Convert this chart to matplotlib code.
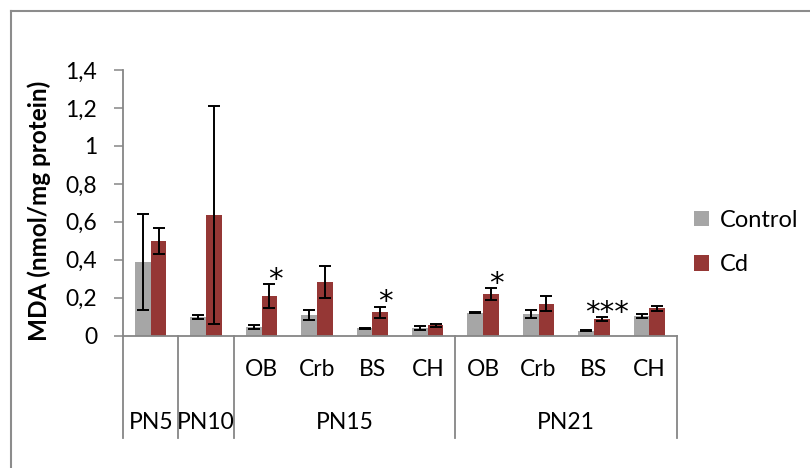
import matplotlib
matplotlib.use("Agg")
import matplotlib.pyplot as plt
import numpy as np
from matplotlib.lines import Line2D
from matplotlib.patches import Patch
import matplotlib.transforms as mtransforms

plt.rcParams['font.family'] = ['Lato', 'DejaVu Sans']

# Sub-region labels (bottom row) and developmental stage groups
regions = ['', '', 'OB', 'Crb', 'BS', 'CH', 'OB', 'Crb', 'BS', 'CH']
groups = ['PN5', 'PN10', 'PN15', 'PN21']
group_spans = [(0, 0), (1, 1), (2, 5), (6, 9)]  # first and last bar index per group

# MDA levels (nmol/mg protein) with error bars
control = [0.388, 0.097, 0.047, 0.111, 0.039, 0.042, 0.120, 0.113, 0.026, 0.105]
control_err = [0.253, 0.010, 0.010, 0.027, 0.003, 0.010, 0.003, 0.022, 0.002, 0.010]
cd = [0.500, 0.636, 0.209, 0.283, 0.123, 0.055, 0.220, 0.169, 0.088, 0.144]
cd_err = [0.067, 0.575, 0.062, 0.083, 0.030, 0.008, 0.030, 0.040, 0.011, 0.014]
significance = ['', '', '*', '', '*', '', '*', '', '***', '']

yticks = [0, 0.2, 0.4, 0.6, 0.8, 1.0, 1.2, 1.4]
ytick_labels = ['0', '0,2', '0,4', '0,6', '0,8', '1', '1,2', '1,4']

GRAY = '#A6A6A6'
RED = '#953735'
AXIS = '#868686'
FS = 16.5

fig = plt.figure(figsize=(8.1, 4.68), dpi=100)
ax = fig.add_axes([0.1519, 0.2827, 0.6840, 0.5677])

x = np.arange(len(control))
w = 0.283
err_kw = dict(ecolor='black', elinewidth=1.4, capsize=4.6, capthick=1.4)
ax.bar(x - w / 2, control, w, color=GRAY, yerr=control_err, error_kw=err_kw,
       label='Control', zorder=2)
ax.bar(x + w / 2, cd, w, color=RED, yerr=cd_err, error_kw=err_kw,
       label='Cd', zorder=2)

# significance marks above the Cd bars
for i, s in enumerate(significance):
    if s:
        ax.annotate(s, (x[i] + w / 2 + 0.1, cd[i] + cd_err[i]),
                    xytext=(0, -7), textcoords='offset points',
                    ha='center', va='bottom', fontsize=21,
                    family=['DejaVu Sans'])

ax.set_xlim(-0.5, len(control) - 0.5)
ax.set_ylim(0, 1.4)
ax.set_yticks(yticks)
ax.set_yticklabels(ytick_labels, fontsize=FS)
ax.set_xticks([])
ax.tick_params(axis='y', direction='out', length=6.5, width=1.1, color=AXIS, pad=12)
for side in ('top', 'right'):
    ax.spines[side].set_visible(False)
for side in ('left', 'bottom'):
    ax.spines[side].set_color(AXIS)
    ax.spines[side].set_linewidth(1.3)

ax.set_ylabel('MDA (nmol/mg protein)', fontsize=17.5, fontweight='bold')
ax.yaxis.set_label_coords(-0.13, 0.47)

# multi-level category axis
trans = mtransforms.blended_transform_factory(ax.transData, ax.transAxes)
line_bottom = -0.385
boundaries = [-0.5] + [hi + 0.5 for lo, hi in group_spans]
for b in boundaries:
    ax.add_line(Line2D([b, b], [0, line_bottom], transform=trans, color=AXIS,
                       lw=1.3, clip_on=False))
for i, r in enumerate(regions):
    if r:
        ax.text(x[i], -0.129, r, transform=trans, ha='center', va='center', fontsize=FS)
for g, (lo, hi) in zip(groups, group_spans):
    ax.text((lo + hi) / 2, -0.325, g, transform=trans, ha='center', va='center', fontsize=FS)

# legend
handles = [Patch(facecolor=GRAY, label='Control'), Patch(facecolor=RED, label='Cd')]
fig.legend(handles=handles, loc='center left', bbox_to_anchor=(0.831, 0.482),
           frameon=False, fontsize=17, handlelength=0.64, handleheight=0.64,
           handletextpad=0.45, labelspacing=1.0)

# outer chart frame
fig.add_artist(Line2D([0.013, 0.013], [0, 0.9765], color='#8C8C8C', lw=1.5))
fig.add_artist(Line2D([0.013, 1.0], [0.9765, 0.9765], color='#8C8C8C', lw=1.5))

fig.savefig('out.png', dpi=100)
